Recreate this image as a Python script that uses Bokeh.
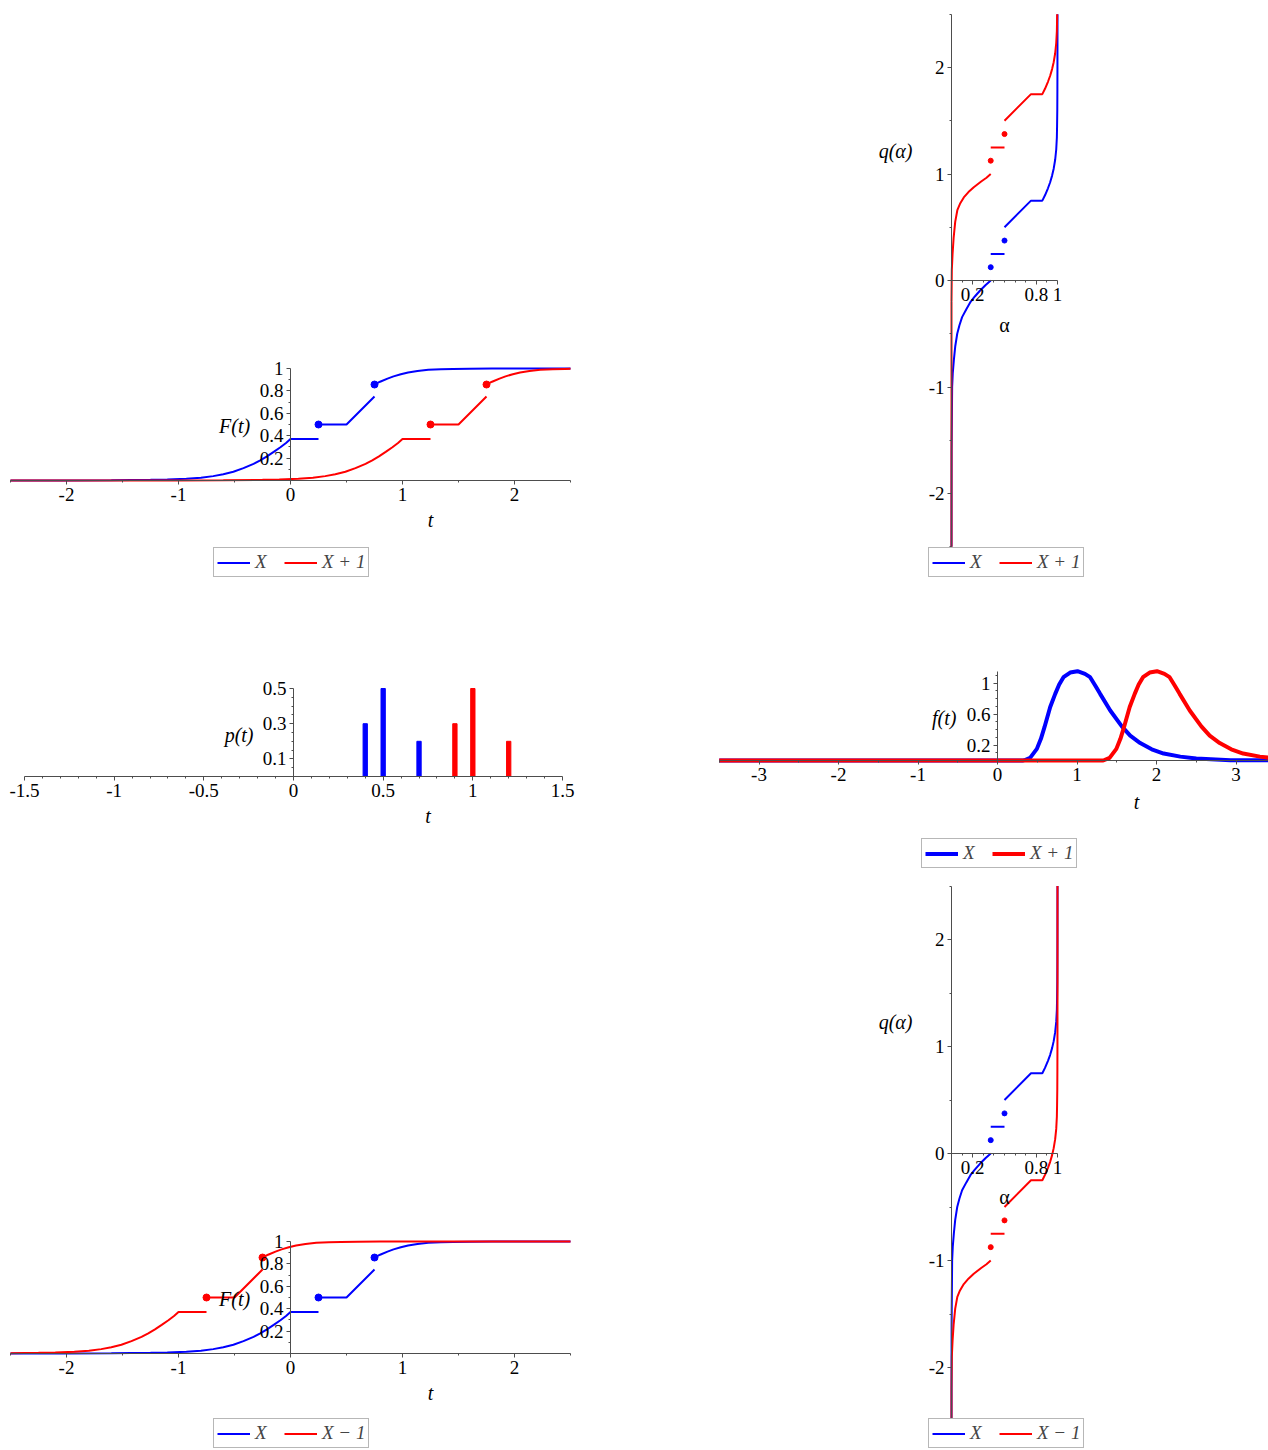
from bokeh.plotting import figure
from bokeh.layouts import column, row
from bokeh.models import LinearAxis, FixedTicker, PrintfTickFormatter, Label, Legend, LegendItem
from bokeh.embed import file_html
from bokeh.resources import INLINE

BLUE, RED = "#0000ff", "#ff0000"
AXIS = "#4d4d4d"
SERIF = "Liberation Serif"

# ---------------- data ----------------
# CDF of X: lower tail up to t = 0, then plateau
cdf_lo_t = [-3.5, -2.5, -2.0, -1.6, -1.25, -1.1, -0.93, -0.8, -0.69, -0.6, -0.51, -0.42,
            -0.33, -0.27, -0.21, -0.15, -0.09, -0.04, 0.0]
cdf_lo_F = [0.0, 0.0, 0.0005, 0.002, 0.006, 0.009, 0.015, 0.025, 0.039, 0.055, 0.078, 0.11,
            0.149, 0.18, 0.215, 0.255, 0.297, 0.335, 0.37]
cdf_plateau_t = [0.0, 0.25]
cdf_plateau_F = [0.37, 0.37]
# middle piece after the first jump
cdf_mid_t = [0.25, 0.5, 0.75]
cdf_mid_F = [0.5, 0.5, 0.75]
# jump points (dots)
cdf_dot_t = [0.25, 0.75]
cdf_dot_F = [0.5, 0.857]
# upper tail
cdf_hi_t = [0.75, 0.8, 0.866, 0.92, 0.985, 1.05, 1.134, 1.23, 1.343, 1.45, 1.6, 1.8, 2.0, 2.5, 3.5]
cdf_hi_F = [0.857, 0.882, 0.91, 0.93, 0.949, 0.964, 0.978, 0.988, 0.994, 0.996, 0.998, 0.999,
            0.9995, 1.0, 1.0]

# quantile q(alpha): lower branch of X as drawn (blue)
qX_lo_alpha = [0.0, 0.0, 0.001, 0.006, 0.012, 0.022, 0.035, 0.054, 0.075, 0.10, 0.14, 0.18,
               0.22, 0.27, 0.32, 0.37]
qX_lo_q = [-3.5, -2.5, -1.6, -1.0, -0.87, -0.75, -0.62, -0.5, -0.42, -0.344, -0.27, -0.2,
           -0.15, -0.094, -0.045, 0.0]
# lower branch of the shifted variable as drawn (red), in units of X
qS_lo_alpha = [0.0, 0.0, 0.003, 0.01, 0.02, 0.035, 0.055, 0.08, 0.116, 0.16, 0.21, 0.28,
               0.33, 0.37]
qS_lo_q = [-3.5, -1.2, -0.9, -0.75, -0.6, -0.45, -0.34, -0.28, -0.22, -0.17, -0.124, -0.07,
           -0.035, 0.0]
q_dot_alpha = [0.37, 0.5]
q_dot_q = [0.125, 0.375]
q_dash_alpha = [0.37, 0.5]
q_dash_q = [0.25, 0.25]
q_mid_alpha = [0.5, 0.75]
q_mid_q = [0.5, 0.75]

# probability function p(t)
pmf_X_t = [0.4, 0.5, 0.7]
pmf_X_p = [0.3, 0.5, 0.2]
pmf_Y_t = [0.9, 1.0, 1.2]
pmf_Y_p = [0.3, 0.5, 0.2]

# density f(t) of X
dens_t = [-4.5, 0.33, 0.41, 0.495, 0.546, 0.591, 0.663, 0.726, 0.776, 0.83, 0.914, 1.006,
          1.10, 1.165, 1.229, 1.291, 1.418, 1.564, 1.669, 1.795, 1.94, 2.09, 2.3, 2.5, 2.93, 4.5]
dens_f = [0.0, 0.0, 0.034, 0.15, 0.28, 0.43, 0.69, 0.86, 0.98, 1.075, 1.135, 1.152,
          1.118, 1.075, 0.968, 0.86, 0.645, 0.44, 0.32, 0.225, 0.145, 0.09, 0.05, 0.025, 0.004, 0.0]

# ticks
cdf_xticks = [-2, -1, 0, 1, 2]
cdf_xminor = [-2.5, -1.5, -0.5, 0.5, 1.5, 2.5]
cdf_yticks = [0.2, 0.4, 0.6, 0.8, 1]
cdf_yminor = [0.1, 0.3, 0.5, 0.7, 0.9]
q_xticks = [0.2, 0.8, 1]
q_xminor = [0.1, 0.3, 0.4, 0.5, 0.6, 0.7, 0.9]
q_yticks = [-2, -1, 0, 1, 2]
q_yminor = [-2.5, -1.5, -0.5, 0.5, 1.5, 2.5]
pmf_xticks = [-1.5, -1, -0.5, 0, 0.5, 1, 1.5]
pmf_xminor = [-1.4, -1.3, -1.2, -1.1, -0.9, -0.8, -0.7, -0.6, -0.4, -0.3, -0.2, -0.1,
              0.1, 0.2, 0.3, 0.4, 0.6, 0.7, 0.8, 0.9, 1.1, 1.2, 1.3, 1.4]
pmf_yticks = [0.1, 0.3, 0.5]
pmf_yminor = [0.05, 0.15, 0.2, 0.25, 0.35, 0.4, 0.45]
dens_xticks = [-3, -2, -1, 0, 1, 2, 3]
dens_xminor = [-3.5, -2.5, -1.5, -0.5, 0.5, 1.5, 2.5, 3.5]
dens_yticks = [0.2, 0.6, 1]
dens_yminor = [0.1, 0.3, 0.4, 0.5, 0.7, 0.8, 0.9, 1.1]


def sh(vals, s):
    return [v + s for v in vals]


def clip_polyline(xs, ys, box):
    """Clip a polyline to the axis box (x0, x1, y0, y1); returns lists of pieces."""
    x0, x1, y0, y1 = box
    parts, cur = [], []
    for i in range(len(xs) - 1):
        ax, ay, bx, by = xs[i], ys[i], xs[i + 1], ys[i + 1]
        dx, dy = bx - ax, by - ay
        u0, u1, ok = 0.0, 1.0, True
        for pp, qq in ((-dx, ax - x0), (dx, x1 - ax), (-dy, ay - y0), (dy, y1 - ay)):
            if pp == 0:
                if qq < 0:
                    ok = False
                    break
            else:
                r = qq / pp
                if pp < 0:
                    if r > u1:
                        ok = False
                        break
                    u0 = max(u0, r)
                else:
                    if r < u0:
                        ok = False
                        break
                    u1 = min(u1, r)
        if not ok:
            if cur:
                parts.append(cur)
                cur = []
            continue
        s = (ax + u0 * dx, ay + u0 * dy)
        e = (ax + u1 * dx, ay + u1 * dy)
        if not cur or cur[-1] != s:
            if cur:
                parts.append(cur)
            cur = [s]
        cur.append(e)
        if u1 < 1.0:
            parts.append(cur)
            cur = []
    if cur:
        parts.append(cur)
    return [[pt[0] for pt in c] for c in parts], [[pt[1] for pt in c] for c in parts]


def draw(p, xs, ys, color, width, box):
    cx, cy = clip_polyline(xs, ys, box)
    return p.multi_line(cx, cy, line_color=color, line_width=width)


def fig_at(w, h, x0px, xppu, y0px, yppu):
    """Figure whose frame fills it; data 0 sits at local pixel (x0px, y0px)."""
    p = figure(width=w, height=h,
               x_range=(-x0px / xppu, (w - x0px) / xppu),
               y_range=(-(h - y0px) / yppu, y0px / yppu),
               output_backend="svg", toolbar_location=None, title=None,
               x_axis_location=None, y_axis_location=None,
               min_border_left=0, min_border_right=0, min_border_top=0, min_border_bottom=0)
    p.outline_line_color = None
    p.grid.visible = False
    return p


def add_axes(p, xt, xm, yt, ym, xb, yb, size="19px"):
    for ticks, minor, bnd, side in ((xt, xm, xb, "below"), (yt, ym, yb, "left")):
        ax = LinearAxis(fixed_location=0, ticker=FixedTicker(ticks=ticks, minor_ticks=minor),
                        formatter=PrintfTickFormatter(format="%g"), bounds=bnd,
                        axis_line_color=AXIS, major_tick_line_color=AXIS,
                        minor_tick_line_color=AXIS, major_tick_in=0, major_tick_out=4,
                        minor_tick_in=0, minor_tick_out=2,
                        major_label_text_font=SERIF, major_label_text_font_size=size,
                        major_label_text_color="black", major_label_standoff=3)
        p.add_layout(ax, side)


def add_label(p, text, x, y, align="center", italic=True, size="20px"):
    p.add_layout(Label(x=x, y=y, text=text, text_align=align, text_baseline="middle",
                       text_font=SERIF, text_font_style="italic" if italic else "normal",
                       text_font_size=size, text_color="black"))


def add_legend(p, items, loc):
    lg = Legend(items=[LegendItem(label=lab, renderers=[r]) for lab, r in items],
                orientation="horizontal", location=loc, border_line_color="#707070",
                border_line_width=1, padding=3, spacing=9, margin=0, glyph_width=33,
                glyph_height=17, label_height=17, label_standoff=5,
                label_text_font=SERIF, label_text_font_style="italic",
                label_text_font_size="19px", background_fill_alpha=1.0)
    p.add_layout(lg)


def cdf_panel(h, y0px, s_red, red_label, leg_loc):
    p = fig_at(600, h, 290, 112, y0px, 112)
    add_axes(p, cdf_xticks, cdf_xminor, cdf_yticks, cdf_yminor, (-2.5, 2.5), (0, 1))
    box = (-2.5, 2.5, -1.0, 2.0)
    rs = []
    for s, col in ((0, BLUE), (s_red, RED)):
        r = draw(p, sh(cdf_lo_t + cdf_plateau_t, s), cdf_lo_F + cdf_plateau_F, col, 2, box)
        draw(p, sh(cdf_mid_t, s), cdf_mid_F, col, 2, box)
        draw(p, sh(cdf_hi_t, s), cdf_hi_F, col, 2, box)
        p.scatter(sh(cdf_dot_t, s), cdf_dot_F, size=7, color=col)
        rs.append(r)
    add_label(p, "F(t)", -0.36, 0.49, align="right")
    add_label(p, "t", 1.25, -0.35)
    add_legend(p, [("X", rs[0]), (red_label, rs[1])], leg_loc)
    return p


def quantile_panel(h, y0px, yppu, s_red, red_label, leg_loc, qlab_y, alab_y):
    p = fig_at(668, h, 351, 106, y0px, yppu)
    add_axes(p, q_xticks, q_xminor, q_yticks, q_yminor, (0, 1), (-2.5, 2.5))
    box = (-0.5, 1.5, -2.5, 2.5)
    rs = []
    for s, col, lo_a, lo_q in ((0, BLUE, qX_lo_alpha, qX_lo_q), (s_red, RED, qS_lo_alpha, qS_lo_q)):
        r = draw(p, lo_a, sh(lo_q, s), col, 2, box)
        draw(p, q_dash_alpha, sh(q_dash_q, s), col, 2, box)
        p.scatter(q_dot_alpha, sh(q_dot_q, s), size=5, color=col)
        draw(p, q_mid_alpha + cdf_hi_F, sh(q_mid_q + cdf_hi_t, s), col, 2, box)
        rs.append(r)
    add_label(p, "q(α)", -0.368, qlab_y, align="right")
    add_label(p, "α", 0.5, alab_y, italic=False)
    add_legend(p, [("X", rs[0]), (red_label, rs[1])], leg_loc)
    return p


pA = cdf_panel(590, 480, 1, "X + 1", (213, 13))
pB = quantile_panel(590, 280, 106.5, 1, "X + 1", (328, 13), 1.22, -0.42)

# pmf panel
pC = fig_at(600, 285, 293, 538 / 3, 186, 176)
add_axes(pC, pmf_xticks, pmf_xminor, pmf_yticks, pmf_yminor, (-1.5, 1.5), (0, 0.5))
pC.vbar(x=pmf_X_t, top=pmf_X_p, bottom=0, width=0.024, color=BLUE)
pC.vbar(x=pmf_Y_t, top=pmf_Y_p, bottom=0, width=0.024, color=RED)
add_label(pC, "p(t)", -0.223, 0.235, align="right")
add_label(pC, "t", 0.75, -0.227)

# density panel
pD = fig_at(668, 285, 397, 79.5, 170, 77.5)
add_axes(pD, dens_xticks, dens_xminor, dens_yticks, dens_yminor, (-3.5, 3.5), (0, 1.15))
dbox = (-3.5, 3.5, -1.0, 2.0)
rD1 = draw(pD, dens_t, dens_f, BLUE, 4, dbox)
rD2 = draw(pD, sh(dens_t, 1), dens_f, RED, 4, dbox)
add_label(pD, "f(t)", -0.516, 0.55, align="right")
add_label(pD, "t", 1.75, -0.53)
add_legend(pD, [("X", rD1), ("X + 1", rD2)], (321, 7))

pE = cdf_panel(575, 478, -1, "X − 1", (213, 2))
pF = quantile_panel(575, 278, 107, -1, "X − 1", (328, 2), 1.23, -0.41)

layout = column(row(pA, pB), row(pC, pD), row(pE, pF))
open("out.html", "w").write(file_html(layout, INLINE, "plot"))
